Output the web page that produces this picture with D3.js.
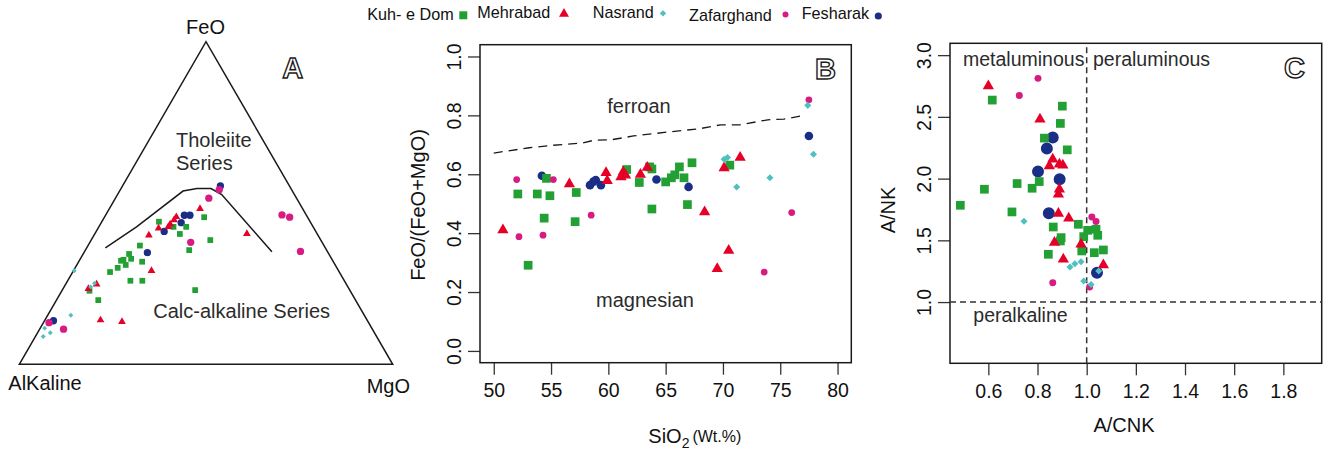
<!DOCTYPE html>
<html><head><meta charset="utf-8">
<script src="https://cdn.jsdelivr.net/npm/d3@7/dist/d3.min.js"></script>
<style>
html,body{margin:0;padding:0;background:#fff;}
svg{display:block;font-family:"Liberation Sans",Arial,Helvetica,sans-serif;}
</style></head>
<body>
<svg id="chart" width="1325" height="453"></svg>
<script>
// ---------- legend / series ----------
const seriesNames = ["Kuh- e Dom", "Mehrabad", "Nasrand", "Zafarghand", "Fesharak"];
const seriesColors = ["#22a033", "#e60028", "#4fc0bf", "#d81b82", "#1b2e87"];
const seriesSymbols = ["square", "triangle", "diamond", "circle", "circle"];

// ---------- Panel A: AFM ternary (Alkali, FeO, MgO in %) ----------
const A_KuhDom_Alk = [40.5,37.4,34.0,27.7,36.8,29.6,36.8,49.3,53.5,53.7,55.9,56.7,56.1,51.2,58.7,61.4,57.3,54.1,69.8,68.9,41.4];
const A_KuhDom_FeO = [44.2,42.6,42.6,45.6,40.4,38.5,35.4,36.8,34.2,32.7,32.4,32.1,30.8,31.8,29.9,28.6,25.9,25.9,22.8,19.9,23.0];
const A_KuhDom_MgO = [15.3,20.0,23.4,26.7,22.8,31.9,27.8,13.9,12.3,13.6,11.7,11.2,13.1,17.0,11.4,10.0,16.8,20.0,7.4,11.2,35.6];

const A_Mehrabad_Alk = [27.5,35.1,36.2,37.9,38.8,41.6,45.3,18.8,50.1,66.9,69.8,71.4,65.9];
const A_Mehrabad_FeO = [48.2,45.7,44.7,43.4,42.6,42.2,40.0,40.5,29.0,24.8,23.4,13.7,13.2];
const A_Mehrabad_MgO = [24.3,19.2,19.1,18.7,18.6,16.2,14.7,40.7,20.9,8.3,6.8,14.9,20.9];

const A_Nasrand_Alk = [70.8,67.3,68.9,78.6,87.6,86.8,89.3];
const A_Nasrand_FeO = [29.0,25.1,24.0,15.2,11.2,9.8,8.6];
const A_Nasrand_MgO = [0.2,7.6,7.1,6.2,1.2,3.4,2.1];

const A_Zafarghand_Alk = [19.4,23.5,35.2,6.5,4.8,7.2,85.6,82.7];
const A_Zafarghand_FeO = [54.1,51.5,37.8,46.3,45.6,35.0,12.9,10.9];
const A_Zafarghand_MgO = [26.5,25.0,27.0,47.2,49.6,57.8,1.5,6.4];

const A_Fesharak_Alk = [18.5,32.7,31.2,34.7,40.6,48.4,84.1];
const A_Fesharak_FeO = [55.3,46.2,46.2,43.9,41.2,34.6,13.5];
const A_Fesharak_MgO = [26.2,21.1,22.6,21.4,18.2,17.0,2.4];

// Irvine & Baragar boundary
const A_Boundary_Alk = [58.9,47.3,29.3,25.2,21.4,19.5,14.9];
const A_Boundary_FeO = [36.1,42.6,53.7,54.5,54.5,52.6,34.9];
const A_Boundary_MgO = [5.0,10.1,17.0,20.3,24.1,27.9,50.2];

// ---------- Panel B: SiO2 vs FeO/(FeO+MgO) ----------
const B_xTicks = [50,55,60,65,70,75,80];
const B_yTicks = [0.0,0.2,0.4,0.6,0.8,1.0];
const B_KuhDom_SiO2 = [52.1,53.8,54.6,54.9,54.4,53.0,57.2,57.1,61.6,62.7,63.6,63.8,63.8,65.0,65.5,65.8,66.2,66.6,66.9,67.3,70.6];
const B_KuhDom_Ratio = [0.533,0.533,0.586,0.527,0.451,0.291,0.538,0.439,0.616,0.572,0.625,0.618,0.482,0.574,0.588,0.598,0.625,0.588,0.497,0.639,0.631];
const B_Mehrabad_SiO2 = [50.8,56.6,59.8,59.9,61.1,61.3,61.5,62.8,63.4,68.4,69.5,70.5,70.1,71.5];
const B_Mehrabad_Ratio = [0.411,0.567,0.605,0.578,0.591,0.608,0.597,0.599,0.623,0.472,0.279,0.341,0.621,0.657];
const B_Nasrand_SiO2 = [77.4,77.9,70.1,70.4,71.2,74.1];
const B_Nasrand_Ratio = [0.834,0.668,0.651,0.657,0.557,0.588];
const B_Zafarghand_SiO2 = [52.0,55.2,58.5,52.2,54.3,76.0,73.6,77.5];
const B_Zafarghand_Ratio = [0.582,0.582,0.461,0.388,0.393,0.470,0.268,0.853];
const B_Fesharak_SiO2 = [54.2,58.4,58.7,58.9,59.35,64.2,67.0,77.5];
const B_Fesharak_Ratio = [0.595,0.563,0.575,0.580,0.563,0.582,0.557,0.730];
const B_Boundary_SiO2 = [50.0,53.1,55.0,57.7,58.7,60.4,62.2,65.1,68.0,69.8,71.5,73.9,75.3,77.1];
const B_Boundary_Ratio = [0.672,0.690,0.698,0.706,0.715,0.718,0.730,0.743,0.755,0.768,0.768,0.785,0.787,0.800];

// ---------- Panel C: A/CNK vs A/NK ----------
const C_xTicks = [0.6,0.8,1.0,1.2,1.4,1.6,1.8];
const C_yTicks = [1.0,1.5,2.0,2.5,3.0];
const C_KuhDom_ACNK = [0.616,0.901,0.893,0.828,0.921,0.717,0.807,0.584,0.778,0.486,0.696,0.864,0.966,0.896,0.893,1.004,0.988,1.038,1.045,1.068,1.031,0.980,0.844];
const C_KuhDom_ANK = [2.636,2.587,2.447,2.328,2.233,1.960,1.976,1.914,1.922,1.784,1.730,1.608,1.630,1.522,1.495,1.581,1.530,1.590,1.541,1.422,1.400,1.414,1.387];
const C_Mehrabad_ACNK = [0.600,0.810,0.862,0.848,0.889,0.903,0.889,0.885,0.885,0.927,0.869,0.977,0.905,1.068];
const C_Mehrabad_ANK = [2.750,2.480,2.157,2.103,2.117,2.109,1.914,1.873,1.717,1.679,1.482,1.468,1.346,1.300];
const C_Nasrand_ACNK = [0.745,0.932,0.952,0.977,0.988,1.018,1.049];
const C_Nasrand_ANK = [1.654,1.284,1.311,1.327,1.170,1.143,1.251];
const C_Zafarghand_ACNK = [0.802,0.726,1.021,1.038,0.862,1.012];
const C_Zafarghand_ANK = [2.812,2.674,1.689,1.652,1.157,1.122];
const C_Fesharak_ACNK = [0.862,0.838,0.802,0.890,0.846,1.042];
const C_Fesharak_ANK = [2.333,2.244,2.058,1.995,1.719,1.238];

// ================= drawing =================
const svg = d3.select("#chart");
const INK = "#1a1a1a", LABEL = "#2b2b2b";

const symType = {square: d3.symbolSquare, triangle: d3.symbolTriangle, diamond: d3.symbolSquare, circle: d3.symbolCircle};
function marker(g, si, x, y, area) {
  const s = seriesSymbols[si];
  g.append("path")
    .attr("d", d3.symbol().type(symType[s]).size(area)())
    .attr("transform", `translate(${x},${y})` + (s === "diamond" ? " rotate(45)" : ""))
    .attr("fill", seriesColors[si]);
}
function panelLetter(txt, x, y) {
  svg.append("text").attr("x", x).attr("y", y).attr("text-anchor", "middle")
    .attr("font-size", 29).attr("font-weight", "bold")
    .attr("fill", "#fff").attr("stroke", INK).attr("stroke-width", 1.4)
    .text(txt);
}
function label(txt, x, y, size, anchor, color) {
  return svg.append("text").attr("x", x).attr("y", y).attr("font-size", size)
    .attr("text-anchor", anchor || "start").attr("fill", color || LABEL).text(txt);
}

// ---------- Legend ----------
const legendTextX = [367.3, 477.3, 592.7, 689, 801.7];
const legendTextY = [19.5, 18, 18, 20.5, 19.3];
const legendMarkX = [463.3, 564, 663, 785.5, 878.3];
const legendMarkY = [15.3, 13.8, 13.3, 14.5, 16];
const legendAreas = [64, 43, 20, 28, 40];
seriesNames.forEach((n, i) => {
  label(n, legendTextX[i], legendTextY[i], 16.2, "start", "#111");
  marker(svg, i, legendMarkX[i], legendMarkY[i], legendAreas[i]);
});

// ---------- Panel A ----------
(function () {
  const g = svg.append("g");
  const xT = d3.scaleLinear().domain([0, 100]).range([19.3, 392.7]);
  const yT = d3.scaleLinear().domain([0, 100]).range([364.3, 41.7]);
  const px = (a, f, m) => xT((m + f / 2) / (a + f + m) * 100);
  const py = (a, f, m) => yT(f / (a + f + m) * 100);

  const corners = [[100, 0, 0], [0, 100, 0], [0, 0, 100]];
  g.append("path")
    .attr("d", d3.line()(corners.map(c => [px(...c), py(...c)])) + "Z")
    .attr("fill", "none").attr("stroke", INK).attr("stroke-width", 1.5);

  const bd = A_Boundary_Alk.map((a, i) => [px(a, A_Boundary_FeO[i], A_Boundary_MgO[i]), py(a, A_Boundary_FeO[i], A_Boundary_MgO[i])]);
  g.append("path").attr("d", d3.line()(bd)).attr("fill", "none").attr("stroke", INK).attr("stroke-width", 1.5);

  const sets = [
    [4, A_Fesharak_Alk, A_Fesharak_FeO, A_Fesharak_MgO, 42],
    [0, A_KuhDom_Alk, A_KuhDom_FeO, A_KuhDom_MgO, 33],
    [1, A_Mehrabad_Alk, A_Mehrabad_FeO, A_Mehrabad_MgO, 26],
    [3, A_Zafarghand_Alk, A_Zafarghand_FeO, A_Zafarghand_MgO, 42],
    [2, A_Nasrand_Alk, A_Nasrand_FeO, A_Nasrand_MgO, 12]
  ];
  sets.forEach(([si, AA, FF, MM, area]) => {
    AA.forEach((a, i) => marker(g, si, px(a, FF[i], MM[i]), py(a, FF[i], MM[i]), area));
  });

  label("FeO", 205.5, 34.3, 20, "middle", "#111");
  label("AlKaline", 8.3, 390, 20, "start", "#111");
  label("MgO", 366.7, 392.5, 20, "start", "#111");
  label("Tholeiite", 176, 146.7, 20);
  label("Series", 176, 170, 20);
  label("Calc-alkaline Series", 153.3, 318.3, 20);
  panelLetter("A", 292.8, 78.3);
})();

// ---------- generic axes for B and C ----------
function drawFrame(x, y, xTicks, yTicks, xFmt, yFmt) {
  const [x0, x1] = x.range(), [y0, y1] = y.range();
  const g = svg.append("g");
  const xa = g.append("g").attr("transform", `translate(0,${y0})`)
    .call(d3.axisBottom(x).tickValues(xTicks).tickFormat(xFmt).tickSize(12).tickPadding(8.5).tickSizeOuter(0));
  const ya = g.append("g").attr("transform", `translate(${x0},0)`)
    .call(d3.axisLeft(y).tickValues(yTicks).tickFormat(yFmt).tickSize(12).tickSizeOuter(0));
  [xa, ya].forEach(a => {
    a.select(".domain").remove();
    a.selectAll("line").attr("stroke", "#333").attr("stroke-width", 1.3);
    a.selectAll("text").attr("font-size", 19.5).attr("fill", "#111")
      .attr("font-family", '"Liberation Sans",Arial,sans-serif');
  });
  ya.selectAll("text").attr("transform", "rotate(-90)").attr("x", 0).attr("y", -19.5)
    .attr("dy", 0).attr("text-anchor", "middle");
  g.append("rect").attr("x", x0).attr("y", y1).attr("width", x1 - x0).attr("height", y0 - y1)
    .attr("fill", "none").attr("stroke", INK).attr("stroke-width", 1.5);
  return g;
}

// ---------- Panel B ----------
(function () {
  const x = d3.scaleLinear().domain([48.8, 81.2]).range([480, 851.3]);
  const y = d3.scaleLinear().domain([-0.04, 1.04]).range([362.7, 44.7]);
  drawFrame(x, y, B_xTicks, B_yTicks, d3.format("d"), d3.format(".1f"));
  const g = svg.append("g");
  g.append("path")
    .attr("d", d3.line().x(d => x(d[0])).y(d => y(d[1]))(B_Boundary_SiO2.map((s, i) => [s, B_Boundary_Ratio[i]])))
    .attr("fill", "none").attr("stroke", INK).attr("stroke-width", 1.3).attr("stroke-dasharray", "9,6");
  const sets = [
    [4, B_Fesharak_SiO2, B_Fesharak_Ratio, 58],
    [0, B_KuhDom_SiO2, B_KuhDom_Ratio, 76],
    [1, B_Mehrabad_SiO2, B_Mehrabad_Ratio, 55],
    [3, B_Zafarghand_SiO2, B_Zafarghand_Ratio, 36],
    [2, B_Nasrand_SiO2, B_Nasrand_Ratio, 25]
  ];
  sets.forEach(([si, X, Y, area]) => X.forEach((v, i) => marker(g, si, x(v), y(Y[i]), area)));

  label("ferroan", 639, 112.7, 20, "middle");
  label("magnesian", 645, 306.7, 20, "middle");
  panelLetter("B", 825.5, 79.3);

  const t = svg.append("text").attr("x", 648.3).attr("y", 443).attr("fill", "#111").attr("font-size", 20);
  t.append("tspan").text("SiO");
  t.append("tspan").attr("font-size", 14).attr("dy", 5).text("2");
  t.append("tspan").attr("font-size", 16).attr("dx", 3).attr("dy", -6).text("(Wt.%)");
  svg.append("text").attr("transform", "translate(425,205) rotate(-90)").attr("text-anchor", "middle")
    .attr("font-size", 20).attr("fill", "#111").text("FeO/(FeO+MgO)");
})();

// ---------- Panel C ----------
(function () {
  const x = d3.scaleLinear().domain([0.444, 1.956]).range([950, 1321.7]);
  const y = d3.scaleLinear().domain([0.504, 3.096]).range([363.3, 43.3]);
  drawFrame(x, y, C_xTicks, C_yTicks, d3.format(".1f"), d3.format(".1f"));
  const g = svg.append("g");
  g.append("line").attr("x1", x.range()[0]).attr("x2", x.range()[1]).attr("y1", y(1)).attr("y2", y(1))
    .attr("stroke", "#333").attr("stroke-width", 1.5).attr("stroke-dasharray", "6,4");
  g.append("line").attr("x1", x(1)).attr("x2", x(1)).attr("y1", y.range()[0]).attr("y2", y.range()[1])
    .attr("stroke", "#333").attr("stroke-width", 1.5).attr("stroke-dasharray", "6,4");
  const sets = [
    [4, C_Fesharak_ACNK, C_Fesharak_ANK, 113],
    [0, C_KuhDom_ACNK, C_KuhDom_ANK, 76],
    [1, C_Mehrabad_ACNK, C_Mehrabad_ANK, 55],
    [3, C_Zafarghand_ACNK, C_Zafarghand_ANK, 38],
    [2, C_Nasrand_ACNK, C_Nasrand_ANK, 25]
  ];
  sets.forEach(([si, X, Y, area]) => X.forEach((v, i) => marker(g, si, x(v), y(Y[i]), area)));

  label("metaluminous", 963, 66, 19.5);
  label("peraluminous", 1093, 66, 19.5);
  label("peralkaline", 973.3, 321.7, 19.5);
  panelLetter("C", 1294.5, 78.3);

  svg.append("text").attr("x", 1124).attr("y", 431.7).attr("text-anchor", "middle")
    .attr("font-size", 20).attr("fill", "#111").text("A/CNK");
  svg.append("text").attr("transform", "translate(895,210) rotate(-90)").attr("text-anchor", "middle")
    .attr("font-size", 20).attr("fill", "#111").text("A/NK");
})();
</script>
</body></html>
